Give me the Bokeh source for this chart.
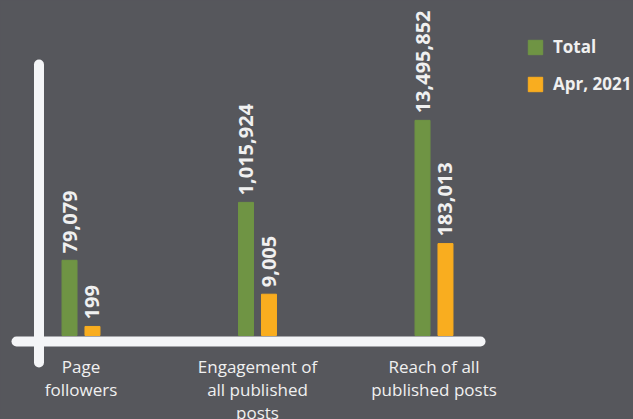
from bokeh.plotting import figure
from bokeh.models import (ColumnDataSource, Range1d, CustomJSTransform,
                          Legend, LegendItem)
from bokeh.transform import dodge, transform
from bokeh.core.properties import value
from bokeh.embed import file_html
from bokeh.resources import INLINE

# ---- data ----
categories = ["Page\nfollowers",
              "Engagement of\nall published\nposts",
              "Reach of all\npublished posts"]
total = [79079, 1015924, 13495852]
april = [199, 9005, 183013]
series_names = ["Total", "Apr, 2021"]

# ---- styles ----
BG = "#56575c"
GREEN = "#6f9444"
ORANGE = "#f9ad1f"
WHITE = "#f4f5f7"
TEXT = "#f0f0f0"

src = ColumnDataSource(dict(
    idx=list(range(len(categories))),
    cat=categories,
    total=total,
    april=april,
    total_lbl=[f"{v:,}" for v in total],
    april_lbl=[f"{v:,}" for v in april],
))

# infographic-style compressed height scale (the original is not drawn to linear scale)
compress = CustomJSTransform(v_func="return xs.map((x) => Math.pow(Math.log10(x), 2.8))")

p = figure(
    x_range=Range1d(-0.4561, 3.1303),
    y_range=Range1d(-95.56, 381.1),
    width=633, height=419,
    output_backend="svg", toolbar_location=None,
    x_axis_location=None, y_axis_location=None,
    min_border=0,
)
p.background_fill_color = BG
p.border_fill_color = BG
p.outline_line_color = None
p.xgrid.visible = False
p.ygrid.visible = False

# decorative axis lines (thick, rounded)
p.segment(x0=[-0.3654], y0=[-6.83], x1=[2.2635], y1=[-6.83],
          line_width=10, line_color=WHITE, line_cap="round")
p.segment(x0=[-0.238], y0=[308.3], x1=[-0.238], y1=[-30.7],
          line_width=10, line_color=WHITE, line_cap="round")

r_total = p.vbar(x=dodge("idx", -0.065), top=transform("total", compress),
                 bottom=0, width=0.085, source=src,
                 fill_color=GREEN, line_color=GREEN)
r_april = p.vbar(x=dodge("idx", 0.065), top=transform("april", compress),
                 bottom=0, width=0.085, source=src,
                 fill_color=ORANGE, line_color=ORANGE)

lbl_kw = dict(angle=1.5707963, text_align="left", text_baseline="middle",
              text_font=value("Open Sans"), text_font_style="bold",
              text_font_size="20px", text_color=TEXT, y_offset=-7, source=src)
p.text(x=dodge("idx", -0.065), y=transform("total", compress),
       text="total_lbl", **lbl_kw)
p.text(x=dodge("idx", 0.065), y=transform("april", compress),
       text="april_lbl", **lbl_kw)

# category labels
p.text(x="idx", y=0, text="cat", source=src, y_offset=20,
       text_align="center", text_baseline="top", text_line_height=1.0,
       text_font=value("Open Sans"), text_font_size="17px", text_color=TEXT)

legend = Legend(
    items=[LegendItem(label=series_names[0], renderers=[r_total]),
           LegendItem(label=series_names[1], renderers=[r_april])],
    location=(526, 324), orientation="vertical",
    glyph_width=18, glyph_height=18, label_height=18, spacing=14,
    label_standoff=9, padding=0, margin=0,
    background_fill_alpha=0, border_line_color=None,
    label_text_font="Open Sans", label_text_font_style="bold",
    label_text_font_size="17px", label_text_color=TEXT,
)
p.add_layout(legend)

html = file_html(p, INLINE)
html = html.replace("</head>", "<style>html,body{background:%s;}</style></head>" % BG, 1)
open("out.html", "w").write(html)
